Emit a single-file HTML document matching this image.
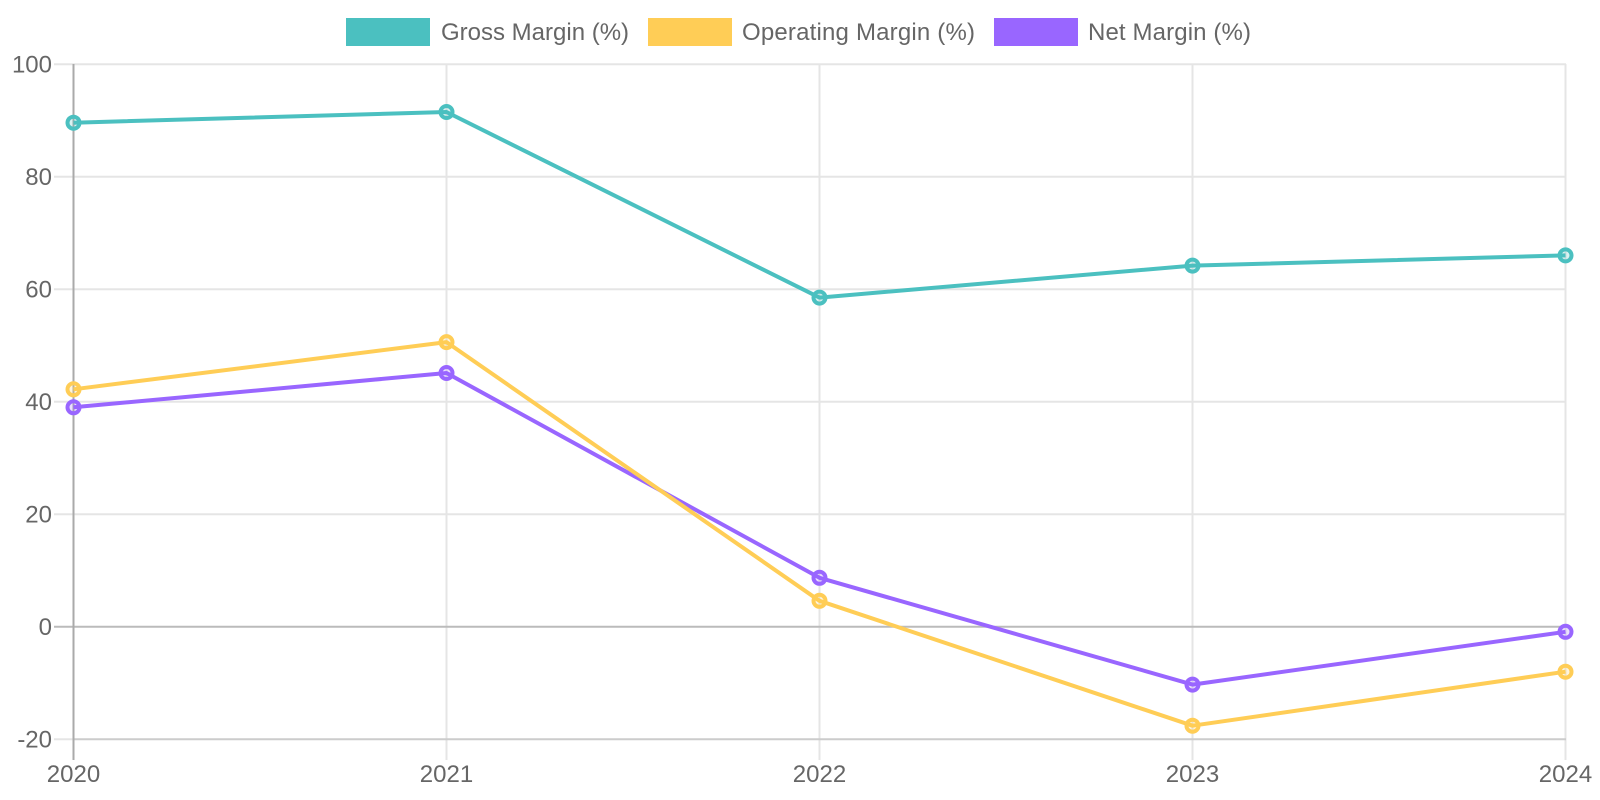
<!DOCTYPE html>
<html>
<head>
<meta charset="utf-8">
<style>
  html, body { margin: 0; padding: 0; background: #fff; }
  svg { display: block; }
  text { font-family: "Liberation Sans", Arial, sans-serif; fill: #666; font-size: 24px; }
</style>
</head>
<body>
<svg width="1600" height="800" viewBox="0 0 1600 800" xmlns="http://www.w3.org/2000/svg">
  <!-- Legend -->
  <rect x="346" y="18" width="84" height="28" fill="#4BC0C0"/>
  <text x="441" y="40">Gross Margin (%)</text>
  <rect x="648" y="18" width="84" height="28" fill="#FFCD56"/>
  <text x="742" y="40" textLength="233" lengthAdjust="spacing">Operating Margin (%)</text>
  <rect x="994" y="18" width="84" height="28" fill="#9966FF"/>
  <text x="1088" y="40" textLength="163" lengthAdjust="spacing">Net Margin (%)</text>

  <!-- Horizontal grid lines (with ticks to the left) -->
  <g stroke="#e5e5e5" stroke-width="2">
    <line x1="54" y1="64.2" x2="1566" y2="64.2"/>
    <line x1="54" y1="176.7" x2="1566" y2="176.7"/>
    <line x1="54" y1="289.2" x2="1566" y2="289.2"/>
    <line x1="54" y1="401.7" x2="1566" y2="401.7"/>
    <line x1="54" y1="514.2" x2="1566" y2="514.2"/>
    <line x1="54" y1="739.2" x2="73" y2="739.2"/>
  </g>
  <!-- Vertical grid lines (with ticks below) -->
  <g stroke="#e5e5e5" stroke-width="2">
    <line x1="446.5" y1="64" x2="446.5" y2="760"/>
    <line x1="819.5" y1="64" x2="819.5" y2="760"/>
    <line x1="1192.5" y1="64" x2="1192.5" y2="760"/>
    <line x1="1565.5" y1="64" x2="1565.5" y2="760"/>
  </g>
  <!-- bottom line and zero line -->
  <line x1="73" y1="739.2" x2="1566" y2="739.2" stroke="#cccccc" stroke-width="2"/>
  <line x1="54" y1="626.7" x2="1566" y2="626.7" stroke="#bbbbbb" stroke-width="2"/>
  <!-- y axis line -->
  <line x1="73.5" y1="64" x2="73.5" y2="760" stroke="#aaaaaa" stroke-width="2"/>

  <!-- Y labels -->
  <g text-anchor="end">
    <text x="52" y="72.5">100</text>
    <text x="52" y="185">80</text>
    <text x="52" y="297.5">60</text>
    <text x="52" y="410">40</text>
    <text x="52" y="522.5">20</text>
    <text x="52" y="635">0</text>
    <text x="52" y="747.5">-20</text>
  </g>
  <!-- X labels -->
  <g text-anchor="middle">
    <text x="73.5" y="782">2020</text>
    <text x="446.5" y="782">2021</text>
    <text x="819.5" y="782">2022</text>
    <text x="1192.5" y="782">2023</text>
    <text x="1565.5" y="782">2024</text>
  </g>

  <!-- Net Margin (drawn first) -->
  <g stroke="#9966FF" stroke-width="4" fill="none" stroke-linejoin="round">
    <polyline points="73.5,407.3 446.5,373.0 819.5,577.8 1192.5,684.6 1565.5,631.8"/>
  </g>
  <g stroke="#9966FF" stroke-width="4" fill="rgba(153,102,255,0.2)">
    <circle cx="73.5" cy="407.3" r="6"/>
    <circle cx="446.5" cy="373.0" r="6"/>
    <circle cx="819.5" cy="577.8" r="6"/>
    <circle cx="1192.5" cy="684.6" r="6"/>
    <circle cx="1565.5" cy="631.8" r="6"/>
  </g>

  <!-- Operating Margin -->
  <g stroke="#FFCD56" stroke-width="4" fill="none" stroke-linejoin="round">
    <polyline points="73.5,389.3 446.5,342.1 819.5,600.8 1192.5,725.7 1565.5,671.7"/>
  </g>
  <g stroke="#FFCD56" stroke-width="4" fill="rgba(255,205,86,0.2)">
    <circle cx="73.5" cy="389.3" r="6"/>
    <circle cx="446.5" cy="342.1" r="6"/>
    <circle cx="819.5" cy="600.8" r="6"/>
    <circle cx="1192.5" cy="725.7" r="6"/>
    <circle cx="1565.5" cy="671.7" r="6"/>
  </g>

  <!-- Gross Margin -->
  <g stroke="#4BC0C0" stroke-width="4" fill="none" stroke-linejoin="round">
    <polyline points="73.5,122.7 446.5,112.0 819.5,297.6 1192.5,265.6 1565.5,255.4"/>
  </g>
  <g stroke="#4BC0C0" stroke-width="4" fill="rgba(75,192,192,0.2)">
    <circle cx="73.5" cy="122.7" r="6"/>
    <circle cx="446.5" cy="112.0" r="6"/>
    <circle cx="819.5" cy="297.6" r="6"/>
    <circle cx="1192.5" cy="265.6" r="6"/>
    <circle cx="1565.5" cy="255.4" r="6"/>
  </g>
</svg>
</body>
</html>
